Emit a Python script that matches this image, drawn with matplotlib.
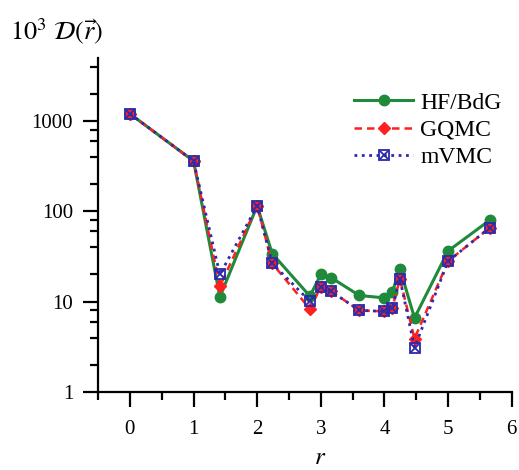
import matplotlib
matplotlib.use("Agg")
import numpy as np
import matplotlib.pyplot as plt
from matplotlib.ticker import LogLocator, MultipleLocator, NullFormatter, FixedLocator, FixedFormatter
from matplotlib.legend_handler import HandlerTuple

# lattice distances r
r = [0, 1, np.sqrt(2), 2, np.sqrt(5), np.sqrt(8), 3, np.sqrt(10), np.sqrt(13),
     4, np.sqrt(17), np.sqrt(18), np.sqrt(20), 5, np.sqrt(32)]

# 10^3 D(r)
hf_bdg = [1200, 360, 11.3, 115, 34, 11.5, 20, 18.4, 11.7, 11.0, 12.7, 23.2, 6.6, 36.4, 80]
gqmc = [1200, 360, 14.8, 115, 26.5, 8.3, 14.6, 13, 8.0, 7.8, 8.5, 17.9, 3.9, 28, 66]
mvmc = [1200, 360, 20, 115, 26.5, 10.1, 14.6, 13, 8.0, 7.8, 8.5, 17.9, 3.1, 28, 66]

yticks = [1, 10, 100, 1000]
ytick_labels = ["1", "10", "100", "1000"]

plt.rcParams['font.family'] = ['Liberation Serif', 'DejaVu Serif']
plt.rcParams['mathtext.fontset'] = 'stix'

green = '#1f8a3a'
red = '#ff2020'
blue = '#2b2bab'

fig = plt.figure(figsize=(5.19, 4.70), dpi=100)
ax = fig.add_axes([0.189, 0.166, 0.797, 0.711])

l1, = ax.plot(r, hf_bdg, '-', color=green, lw=2.2, marker='o', ms=7.5,
              mfc=green, mec=green, zorder=3)
l2, = ax.plot(r, gqmc, '--', color=red, lw=1.8, marker='D', ms=6.5,
              mfc=red, mec=red, dashes=(3, 2), zorder=4)
l3, = ax.plot(r, mvmc, ':', color=blue, lw=2.0, marker='s', ms=7,
              mfc='none', mec=blue, mew=1.3, zorder=5)
l3x, = ax.plot(r, mvmc, linestyle='none', marker='x', ms=6.5, mec=blue,
               mew=1.3, zorder=5)

ax.set_yscale('log')
ax.set_xlim(-0.5, 6)
ax.set_ylim(1, 5000)

ax.yaxis.set_major_locator(FixedLocator(yticks))
ax.yaxis.set_major_formatter(FixedFormatter(ytick_labels))
ax.yaxis.set_minor_locator(LogLocator(base=10, subs=[2, 4, 6, 8]))
ax.yaxis.set_minor_formatter(NullFormatter())
ax.xaxis.set_major_locator(MultipleLocator(1))
ax.xaxis.set_minor_locator(MultipleLocator(0.5))

for s in ['top', 'right']:
    ax.spines[s].set_visible(False)
for s in ['left', 'bottom']:
    ax.spines[s].set_linewidth(1.6)

ax.tick_params(which='major', direction='out', length=11, width=1.6, labelsize=15)
ax.tick_params(axis='x', which='major', pad=9)
ax.tick_params(axis='y', which='major', pad=7)
ax.tick_params(which='minor', direction='out', length=5.5, width=1.6)

leg = ax.legend([l1, l2, (l3, l3x)], ['HF/BdG', 'GQMC', 'mVMC'],
                handler_map={tuple: HandlerTuple(ndivide=1, pad=0)},
                loc='upper right', bbox_to_anchor=(1.01, 0.94), frameon=False,
                fontsize=17, handlelength=2.5, handletextpad=0.3, labelspacing=0.25,
                borderaxespad=0.2)

fig.text(0.02, 0.935, r'$10^3\ \mathcal{D}(\vec{r})$', fontsize=19, ha='left', va='center')
ax.set_xlabel(r'$r$', fontsize=18)
ax.xaxis.set_label_coords(0.536, -0.165)

fig.savefig('out.png', dpi=100)
